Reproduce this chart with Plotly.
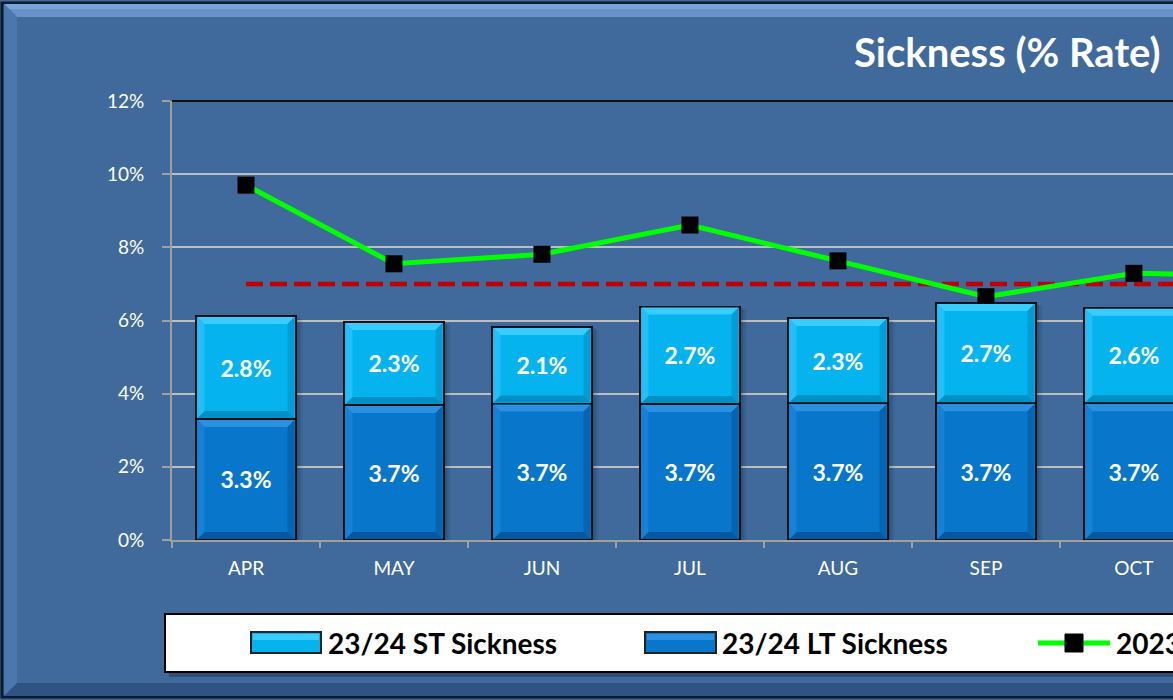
import plotly.graph_objects as go

# ---------------- data ----------------
months = ["APR", "MAY", "JUN", "JUL", "AUG", "SEP", "OCT", "NOV"]
bar_months = ["APR", "MAY", "JUN", "JUL", "AUG", "SEP", "OCT"]
lt_sickness = [3.31, 3.69, 3.73, 3.72, 3.74, 3.74, 3.74]
st_sickness = [2.81, 2.27, 2.09, 2.66, 2.33, 2.74, 2.61]
line_values = [9.70, 7.55, 7.81, 8.61, 7.63, 6.65, 7.29, 7.21]
target_values = [7.0, 7.0, 7.0, 7.0, 7.0, 7.0, 7.0, 7.0]
y_ticks = [0, 2, 4, 6, 8, 10, 12]
y_tick_labels = ["0%", "2%", "4%", "6%", "8%", "10%", "12%"]

name_st = "23/24 ST Sickness"
name_lt = "23/24 LT Sickness"
name_line = "2023/24 Total Sickness"
title_text = "Sickness (% Rate)"

# ---------------- layout geometry ----------------
W, H = 1173, 700
L, R, T, B = 172, 1173, 101, 540
FONT = "Lato"
X_RANGE = [-0.5, 6.264]
Y_RANGE = [0, 12]
BAR_W = 0.67

def px(xp):
    return (xp - L) / (R - L)

def py(yp):
    return (B - yp) / (B - T)

XU = (R - L) / (X_RANGE[1] - X_RANGE[0])   # px per category
YU = (B - T) / (Y_RANGE[1] - Y_RANGE[0])   # px per percent

ST_COLOR = "#05B3EF"
LT_COLOR = "#0776CB"
ST_BEVEL = dict(top="#3ACBFF", left="#22BFF8", right="#019ED6", bottom="#0090C4")
LT_BEVEL = dict(top="#2B90E2", left="#1682D6", right="#0764B0", bottom="#05589F")

fig = go.Figure()

fig.add_trace(go.Bar(
    x=bar_months, y=lt_sickness, name=name_lt, width=BAR_W,
    marker=dict(color=LT_COLOR, line=dict(color="#111111", width=2)),
    texttemplate="%{y:.1f}%", textposition="inside", insidetextanchor="middle",
    textangle=0, textfont=dict(family=FONT, size=23, color="white", weight="bold"),
    showlegend=False,
))
fig.add_trace(go.Bar(
    x=bar_months, y=st_sickness, name=name_st, width=BAR_W,
    marker=dict(color=ST_COLOR, line=dict(color="#111111", width=2)),
    texttemplate="%{y:.1f}%", textposition="inside", insidetextanchor="middle",
    textangle=0, textfont=dict(family=FONT, size=23, color="white", weight="bold"),
    showlegend=False,
))
fig.add_trace(go.Scatter(
    x=months, y=target_values, mode="lines", name="Target",
    line=dict(color="#C00000", width=4.5, dash="17px,7px"),
    showlegend=False,
))
fig.add_trace(go.Scatter(
    x=months, y=line_values, mode="lines+markers", name=name_line,
    line=dict(color="#00FF00", width=5),
    marker=dict(symbol="square", size=17, color="black"),
    showlegend=False,
))

shapes = []
# frame and bevels
shapes.append(dict(type="rect", xref="paper", yref="paper",
                   x0=px(2), x1=px(1190), y0=py(697), y1=py(3),
                   line=dict(color="#0E1B2C", width=3), fillcolor="#3F6A9B", layer="below"))
shapes.append(dict(type="path", xref="paper", yref="paper", layer="below",
                   path=f"M {px(4)},{py(4)} L {px(1190)},{py(4)} L {px(1190)},{py(17)} L {px(17)},{py(17)} Z",
                   fillcolor="#6791C7", line=dict(width=0)))
shapes.append(dict(type="path", xref="paper", yref="paper", layer="below",
                   path=f"M {px(4)},{py(4)} L {px(1190)},{py(4)} L {px(1190)},{py(9)} L {px(9)},{py(9)} Z",
                   fillcolor="#7AA3D8", line=dict(width=0)))
shapes.append(dict(type="path", xref="paper", yref="paper", layer="below",
                   path=f"M {px(4)},{py(4)} L {px(17)},{py(17)} L {px(17)},{py(683)} L {px(4)},{py(696)} Z",
                   fillcolor="#4A77AD", line=dict(width=0)))
shapes.append(dict(type="path", xref="paper", yref="paper", layer="below",
                   path=f"M {px(4)},{py(696)} L {px(17)},{py(683)} L {px(1190)},{py(683)} L {px(1190)},{py(696)} Z",
                   fillcolor="#2F5483", line=dict(width=0)))
# plot area top border
shapes.append(dict(type="line", xref="paper", yref="paper", x0=0, x1=1.2, y0=1, y1=1,
                   line=dict(color="#111111", width=2)))

# bar shadows and bevels (derived from the data arrays)
hw = BAR_W / 2
bx = 7 / XU
by = 7 / YU
ix = 1 / XU
iy = 1 / YU
for i, (lt, st) in enumerate(zip(lt_sickness, st_sickness)):
    total = lt + st
    for k, a in enumerate([0.10, 0.08, 0.06]):
        off = (3 + 2 * k) / XU
        shapes.append(dict(type="rect", xref="x", yref="y", layer="between",
                           x0=i - hw + off, x1=i + hw + off, y0=0, y1=total - (1 + k) / YU,
                           fillcolor=f"rgba(0,0,0,{a})", line=dict(width=0)))
    for (y0, y1, bev) in [(0, lt, LT_BEVEL), (lt, total, ST_BEVEL)]:
        x0, x1 = i - hw + ix, i + hw - ix
        a0, a1 = y0 + iy, y1 - iy
        polys = {
            "top": [(x0, a1), (x1, a1), (x1 - bx, a1 - by), (x0 + bx, a1 - by)],
            "bottom": [(x0, a0), (x1, a0), (x1 - bx, a0 + by), (x0 + bx, a0 + by)],
            "left": [(x0, a0), (x0 + bx, a0 + by), (x0 + bx, a1 - by), (x0, a1)],
            "right": [(x1, a0), (x1 - bx, a0 + by), (x1 - bx, a1 - by), (x1, a1)],
        }
        for side, pts in polys.items():
            path = "M " + " L ".join(f"{p[0]},{p[1]}" for p in pts) + " Z"
            shapes.append(dict(type="path", xref="x", yref="y", layer="above", path=path,
                               fillcolor=bev[side], line=dict(width=0)))

# legend box
shapes.append(dict(type="rect", xref="paper", yref="paper", layer="above",
                   x0=px(169), x1=px(1195), y0=py(677), y1=py(618),
                   fillcolor="rgba(20,30,50,0.35)", line=dict(width=0)))
shapes.append(dict(type="rect", xref="paper", yref="paper", layer="above",
                   x0=px(165), x1=px(1195), y0=py(672), y1=py(614),
                   fillcolor="white", line=dict(color="black", width=2)))
# legend swatches
shapes.append(dict(type="rect", xref="paper", yref="paper", layer="above",
                   x0=px(251), x1=px(321), y0=py(653), y1=py(632),
                   fillcolor=ST_COLOR, line=dict(color="#222222", width=2)))
shapes.append(dict(type="rect", xref="paper", yref="paper", layer="above",
                   x0=px(253), x1=px(319), y0=py(640), y1=py(634),
                   fillcolor=ST_BEVEL["top"], line=dict(width=0)))
shapes.append(dict(type="rect", xref="paper", yref="paper", layer="above",
                   x0=px(645), x1=px(716), y0=py(653), y1=py(632),
                   fillcolor=LT_COLOR, line=dict(color="#222222", width=2)))
shapes.append(dict(type="rect", xref="paper", yref="paper", layer="above",
                   x0=px(647), x1=px(714), y0=py(640), y1=py(634),
                   fillcolor=LT_BEVEL["top"], line=dict(width=0)))
shapes.append(dict(type="line", xref="paper", yref="paper", layer="above",
                   x0=px(1038), x1=px(1110), y0=py(643), y1=py(643),
                   line=dict(color="#00FF00", width=5)))
shapes.append(dict(type="rect", xref="paper", yref="paper", layer="above",
                   x0=px(1065), x1=px(1083), y0=py(652), y1=py(634),
                   fillcolor="black", line=dict(color="black", width=1)))

annotations = [
    dict(text=f"<b>{title_text}</b>", xref="paper", yref="paper",
         x=px(1163), y=py(52), xanchor="right", yanchor="middle", showarrow=False,
         font=dict(family=FONT, size=40, color="white")),
    dict(text=f"<b>{name_st}</b>", xref="paper", yref="paper",
         x=px(326), y=py(643), xanchor="left", yanchor="middle", showarrow=False,
         font=dict(family=FONT, size=28, color="black")),
    dict(text=f"<b>{name_lt}</b>", xref="paper", yref="paper",
         x=px(720), y=py(643), xanchor="left", yanchor="middle", showarrow=False,
         font=dict(family=FONT, size=28, color="black")),
    dict(text=f"<b>{name_line}</b>", xref="paper", yref="paper",
         x=px(1114), y=py(643), xanchor="left", yanchor="middle", showarrow=False,
         font=dict(family=FONT, size=28, color="black")),
]

fig.update_layout(
    width=W, height=H,
    margin=dict(l=L, r=W - R, t=T, b=H - B, pad=0),
    paper_bgcolor="#3F6A9B", plot_bgcolor="white",
    barmode="stack",
    shapes=shapes, annotations=annotations,
    showlegend=False,
    font=dict(family=FONT, color="white"),
)
fig.update_xaxes(
    type="category", categoryorder="array", categoryarray=months,
    range=X_RANGE, tickson="boundaries", ticks="outside", ticklen=6,
    tickcolor="#A0A0A0", tickwidth=2, showline=True, linecolor="#A0A0A0", linewidth=2,
    showgrid=False, tickfont=dict(family=FONT, size=19, color="white"),
    ticklabelstandoff=10,
)
fig.update_yaxes(
    range=Y_RANGE, tickmode="array", tickvals=y_ticks, ticktext=y_tick_labels,
    ticks="outside", ticklen=8,
    tickcolor="#A0A0A0", tickwidth=2, showline=True, linecolor="#A0A0A0", linewidth=2,
    showgrid=True, gridcolor="#BEBEBE", gridwidth=2, zeroline=False,
    tickfont=dict(family=FONT, size=19, color="white"), ticklabelstandoff=14,
)

fig.write_html(
    "out.html",
    config={"displayModeBar": False},
    post_script="document.body.style.margin='0px';document.body.style.overflow='hidden';",
)
